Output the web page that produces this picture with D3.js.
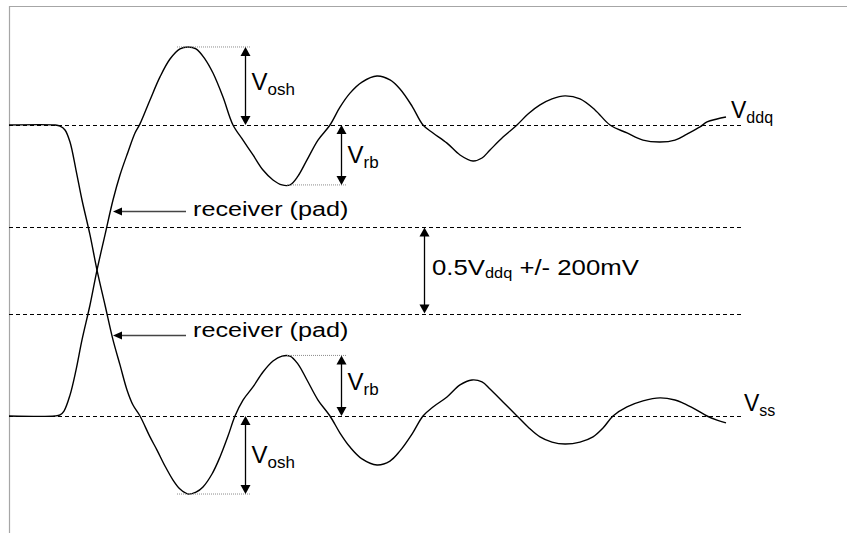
<!DOCTYPE html>
<html>
<head>
<meta charset="utf-8">
<script src="https://cdn.jsdelivr.net/npm/d3@7"></script>
<style>
  html, body { margin: 0; padding: 0; background: #fff; }
  svg { display: block; }
  text { font-family: "Liberation Sans", Arial, sans-serif; fill: #000; }
</style>
</head>
<body>
<svg id="chart" width="847" height="533"></svg>
<script>
// ---- data (time in arbitrary units, voltage in volts; Vddq = 1.35 V) ----
const VDDQ = 1.35;
const levelValues = [1.35, 0.875, 0.475, 0];          // Vddq, 0.5Vddq+200mV, 0.5Vddq-200mV, Vss

const timeRise = [0,46,51,55,61,67,73,81,88,96,104,111,119,126,131,141,151,161,171,179,187,196,204,214,224,234,244,254,264,273,281,289,298,309,321,331,341,353,368,381,391,403,414,424,438,451,464,473,481,494,508,519,531,543,556,571,586,601,618,634,651,666,678,691,698,708,717];
const voltRise = [0,0,0.005,0.023,0.097,0.213,0.353,0.515,0.677,0.840,1.002,1.118,1.225,1.313,1.355,1.466,1.573,1.656,1.703,1.712,1.703,1.656,1.591,1.480,1.35,1.280,1.211,1.141,1.095,1.072,1.072,1.113,1.188,1.280,1.35,1.433,1.498,1.549,1.577,1.559,1.517,1.438,1.35,1.313,1.266,1.211,1.183,1.197,1.234,1.294,1.35,1.401,1.443,1.471,1.485,1.471,1.420,1.35,1.313,1.280,1.271,1.280,1.308,1.341,1.364,1.378,1.387];

const timeFall = [0,46,51,56,61,67,73,81,88,96,104,111,118,124,131,141,148,156,164,171,179,187,194,203,211,219,226,234,244,254,264,273,281,289,298,309,321,331,341,353,368,381,391,403,414,424,438,451,463,473,481,494,508,519,531,543,556,571,584,594,604,618,634,651,666,674,686,698,708,717];
const voltFall = [1.35,1.35,1.345,1.327,1.271,1.141,1.002,0.840,0.677,0.515,0.353,0.237,0.121,0.051,0,-0.097,-0.158,-0.232,-0.297,-0.339,-0.362,-0.353,-0.329,-0.269,-0.190,-0.093,0,0.074,0.135,0.204,0.255,0.278,0.278,0.241,0.167,0.074,0,-0.079,-0.144,-0.199,-0.227,-0.209,-0.162,-0.084,0,0.042,0.088,0.144,0.167,0.158,0.125,0.065,0,-0.051,-0.097,-0.121,-0.130,-0.121,-0.097,-0.056,0,0.042,0.070,0.084,0.074,0.060,0.032,0,-0.019,-0.032];

// dimension annotations
const dimSubs   = ["osh", "rb", "rb", "osh"];
const dimTime   = [236, 332, 332, 236];
const dimFrom   = [1.35, 1.35, 0, 0];
const dimTo     = [1.712, 1.072, 0.281, -0.362];
const refStart  = [168, 278, 278, 168];
const dimLabelV = [1.512, 1.174, 0.121, -0.218];

// ---- drawing ----
const svg = d3.select("#chart");
const x = d3.scaleLinear().domain([0, 838]).range([9, 847]);
const y = d3.scaleLinear().domain([0, VDDQ]).range([416, 125]);

// frame
svg.append("line").attr("x1", 9.5).attr("x2", 9.5).attr("y1", 6).attr("y2", 533)
  .attr("stroke", "#a6a6a6").attr("stroke-width", 1.2);
svg.append("line").attr("x1", 9).attr("x2", 847).attr("y1", 6.5).attr("y2", 6.5)
  .attr("stroke", "#a6a6a6").attr("stroke-width", 1.2);

// dashed level lines
svg.selectAll("line.level").data(levelValues).enter().append("line")
  .attr("class", "level")
  .attr("x1", x(0)).attr("x2", x(735))
  .attr("y1", d => Math.round(y(d)) + 0.5).attr("y2", d => Math.round(y(d)) + 0.5)
  .attr("stroke", "#000").attr("stroke-width", 1)
  .attr("stroke-dasharray", "4,3");

// waveforms
const line = d3.line().x(d => x(d[0])).y(d => y(d[1])).curve(d3.curveCatmullRom.alpha(0.5));
const rise = timeRise.map((t, i) => [t, voltRise[i]]);
const fall = timeFall.map((t, i) => [t, voltFall[i]]);
[rise, fall].forEach(pts => {
  svg.append("path").attr("d", line(pts))
    .attr("fill", "none").attr("stroke", "#000").attr("stroke-width", 1.4);
});

// arrowhead helper
function head(px, py, dir) {
  const L = 9, W = 5;
  let p;
  if (dir === "up") p = [[px, py], [px - W, py + L], [px + W, py + L]];
  else if (dir === "down") p = [[px, py], [px - W, py - L], [px + W, py - L]];
  else p = [[px, py], [px + L, py - 4], [px + L, py + 4]];
  svg.append("polygon").attr("points", p.map(q => q.join(",")).join(" ")).attr("fill", "#000");
}
function vArrow(xp, y1, y2) {
  const top = Math.min(y1, y2), bot = Math.max(y1, y2);
  svg.append("line").attr("x1", xp).attr("x2", xp).attr("y1", top + 4).attr("y2", bot - 4)
    .attr("stroke", "#000").attr("stroke-width", 1.3);
  head(xp, top, "up");
  head(xp, bot, "down");
}

// dimension arrows with dotted reference lines and labels
dimSubs.forEach((sub, i) => {
  const xp = Math.round(x(dimTime[i])) + 0.5;
  const yr = y(dimTo[i]);
  svg.append("line").attr("x1", x(refStart[i])).attr("x2", xp + 5)
    .attr("y1", yr).attr("y2", yr)
    .attr("stroke", "#8c8c8c").attr("stroke-width", 1).attr("stroke-dasharray", "1,1");
  vArrow(xp, y(dimFrom[i]), yr);
  const t = svg.append("text").attr("x", xp + 6).attr("y", y(dimLabelV[i])).style("font-size", "24px");
  t.append("tspan").text("V");
  t.append("tspan").attr("dy", 5).style("font-size", "17px").text(sub);
});

// level labels
const vddq = svg.append("text").attr("x", 731).attr("y", y(VDDQ) - 7).style("font-size", "23px");
vddq.append("tspan").text("V");
vddq.append("tspan").attr("dy", 5).style("font-size", "16px").text("ddq");
const vss = svg.append("text").attr("x", 744).attr("y", y(0) - 5).style("font-size", "23px");
vss.append("tspan").text("V");
vss.append("tspan").attr("dy", 5).style("font-size", "16px").text("ss");

// receiver (pad) arrows
[[211.5, 216], [335.5, 337]].forEach(([ay, ty]) => {
  svg.append("line").attr("x1", 122).attr("x2", 186).attr("y1", ay).attr("y2", ay)
    .attr("stroke", "#444").attr("stroke-width", 1.3);
  head(113, ay, "left");
  svg.append("text").attr("transform", `translate(193,${ty}) scale(1.2,1)`)
    .style("font-size", "21px").text("receiver (pad)");
});

// threshold window arrow
const wx = 424.5;
vArrow(wx, y(levelValues[1]), y(levelValues[2]));
const wt = svg.append("text").attr("transform", "translate(432,275) scale(1.17,1)").style("font-size", "22px");
wt.append("tspan").text("0.5V");
wt.append("tspan").attr("dy", 3).style("font-size", "14px").text("ddq");
wt.append("tspan").attr("dy", -3).text(" +/- 200mV");
</script>
</body>
</html>
